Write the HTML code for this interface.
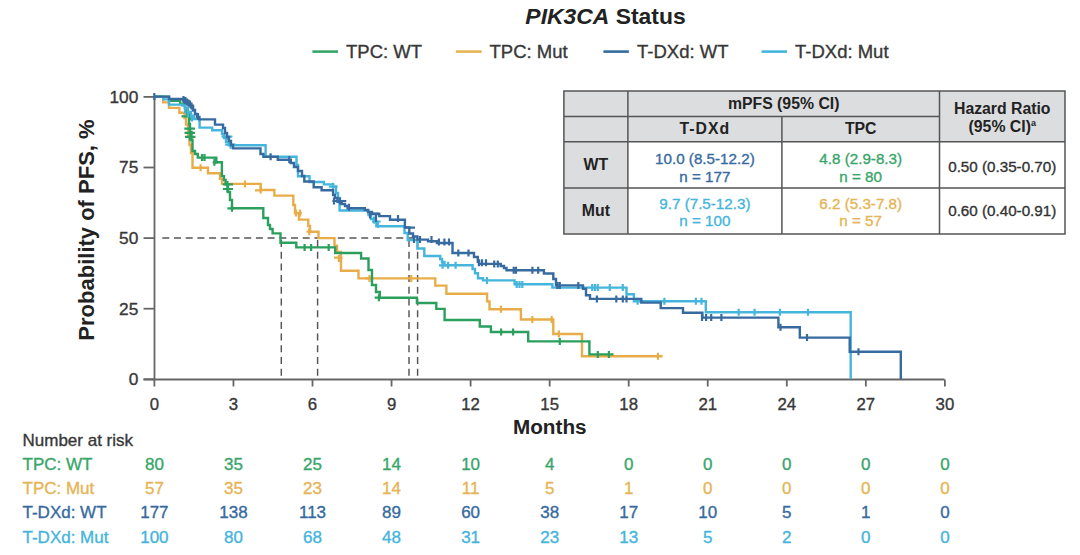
<!DOCTYPE html>
<html><head><meta charset="utf-8"><style>
html,body{margin:0;padding:0;background:#fff;}
svg{display:block;font-family:"Liberation Sans", sans-serif;}
</style></head><body>
<svg width="1080" height="555" viewBox="0 0 1080 555">
<text x="605.5" y="24" text-anchor="middle" font-weight="bold" font-size="22.9" fill="#222"><tspan font-style="italic">PIK3CA</tspan> Status</text>
<line x1="312.4" y1="51.6" x2="338" y2="51.6" stroke="#38a66a" stroke-width="2.6"/>
<text x="346" y="58" font-size="18.5" fill="#383838" stroke="#383838" stroke-width="0.35">TPC: WT</text>
<line x1="455.9" y1="51.6" x2="481.7" y2="51.6" stroke="#e6b455" stroke-width="2.6"/>
<text x="489.5" y="58" font-size="18.5" fill="#383838" stroke="#383838" stroke-width="0.35">TPC: Mut</text>
<line x1="603.4" y1="51.6" x2="628.9" y2="51.6" stroke="#376a9f" stroke-width="2.6"/>
<text x="637" y="58" font-size="18.5" fill="#383838" stroke="#383838" stroke-width="0.35">T-DXd: WT</text>
<line x1="761.5" y1="51.6" x2="787" y2="51.6" stroke="#45b5dc" stroke-width="2.6"/>
<text x="795" y="58" font-size="18.5" fill="#383838" stroke="#383838" stroke-width="0.35">T-DXd: Mut</text>
<line x1="154.5" y1="96" x2="154.5" y2="380" stroke="#666" stroke-width="1.8"/>
<line x1="143.5" y1="379.5" x2="944.5" y2="379.5" stroke="#666" stroke-width="1.8"/>
<line x1="154.40" y1="379.5" x2="154.40" y2="386.5" stroke="#666" stroke-width="1.8"/>
<text x="154.40" y="409.5" text-anchor="middle" font-size="16.8" fill="#383838" stroke="#383838" stroke-width="0.35">0</text>
<line x1="233.45" y1="379.5" x2="233.45" y2="386.5" stroke="#666" stroke-width="1.8"/>
<text x="233.45" y="409.5" text-anchor="middle" font-size="16.8" fill="#383838" stroke="#383838" stroke-width="0.35">3</text>
<line x1="312.50" y1="379.5" x2="312.50" y2="386.5" stroke="#666" stroke-width="1.8"/>
<text x="312.50" y="409.5" text-anchor="middle" font-size="16.8" fill="#383838" stroke="#383838" stroke-width="0.35">6</text>
<line x1="391.55" y1="379.5" x2="391.55" y2="386.5" stroke="#666" stroke-width="1.8"/>
<text x="391.55" y="409.5" text-anchor="middle" font-size="16.8" fill="#383838" stroke="#383838" stroke-width="0.35">9</text>
<line x1="470.60" y1="379.5" x2="470.60" y2="386.5" stroke="#666" stroke-width="1.8"/>
<text x="470.60" y="409.5" text-anchor="middle" font-size="16.8" fill="#383838" stroke="#383838" stroke-width="0.35">12</text>
<line x1="549.65" y1="379.5" x2="549.65" y2="386.5" stroke="#666" stroke-width="1.8"/>
<text x="549.65" y="409.5" text-anchor="middle" font-size="16.8" fill="#383838" stroke="#383838" stroke-width="0.35">15</text>
<line x1="628.70" y1="379.5" x2="628.70" y2="386.5" stroke="#666" stroke-width="1.8"/>
<text x="628.70" y="409.5" text-anchor="middle" font-size="16.8" fill="#383838" stroke="#383838" stroke-width="0.35">18</text>
<line x1="707.75" y1="379.5" x2="707.75" y2="386.5" stroke="#666" stroke-width="1.8"/>
<text x="707.75" y="409.5" text-anchor="middle" font-size="16.8" fill="#383838" stroke="#383838" stroke-width="0.35">21</text>
<line x1="786.80" y1="379.5" x2="786.80" y2="386.5" stroke="#666" stroke-width="1.8"/>
<text x="786.80" y="409.5" text-anchor="middle" font-size="16.8" fill="#383838" stroke="#383838" stroke-width="0.35">24</text>
<line x1="865.85" y1="379.5" x2="865.85" y2="386.5" stroke="#666" stroke-width="1.8"/>
<text x="865.85" y="409.5" text-anchor="middle" font-size="16.8" fill="#383838" stroke="#383838" stroke-width="0.35">27</text>
<line x1="944.90" y1="379.5" x2="944.90" y2="386.5" stroke="#666" stroke-width="1.8"/>
<text x="944.90" y="409.5" text-anchor="middle" font-size="16.8" fill="#383838" stroke="#383838" stroke-width="0.35">30</text>
<line x1="143.5" y1="379.30" x2="154.5" y2="379.30" stroke="#666" stroke-width="1.8"/>
<text x="138.3" y="385.10" text-anchor="end" font-size="17.3" fill="#383838" stroke="#383838" stroke-width="0.35">0</text>
<line x1="143.5" y1="308.70" x2="154.5" y2="308.70" stroke="#666" stroke-width="1.8"/>
<text x="138.3" y="314.50" text-anchor="end" font-size="17.3" fill="#383838" stroke="#383838" stroke-width="0.35">25</text>
<line x1="143.5" y1="238.10" x2="154.5" y2="238.10" stroke="#666" stroke-width="1.8"/>
<text x="138.3" y="243.90" text-anchor="end" font-size="17.3" fill="#383838" stroke="#383838" stroke-width="0.35">50</text>
<line x1="143.5" y1="167.50" x2="154.5" y2="167.50" stroke="#666" stroke-width="1.8"/>
<text x="138.3" y="173.30" text-anchor="end" font-size="17.3" fill="#383838" stroke="#383838" stroke-width="0.35">75</text>
<line x1="143.5" y1="96.90" x2="154.5" y2="96.90" stroke="#666" stroke-width="1.8"/>
<text x="138.3" y="102.70" text-anchor="end" font-size="17.3" fill="#383838" stroke="#383838" stroke-width="0.35">100</text>
<text x="513" y="434.3" font-weight="bold" font-size="20.7" fill="#222">Months</text>
<text transform="translate(93.5,230) rotate(-90)" text-anchor="middle" font-weight="bold" font-size="22" fill="#222">Probability of PFS, %</text>
<g stroke="#555" stroke-width="1.45" stroke-dasharray="7,4.7" fill="none">
<line x1="162.3" y1="237.9" x2="417.6" y2="237.9"/>
<line x1="281.3" y1="240" x2="281.3" y2="379"/>
<line x1="317.6" y1="240" x2="317.6" y2="379"/>
<line x1="409.0" y1="240" x2="409.0" y2="379"/>
<line x1="417.6" y1="240" x2="417.6" y2="379"/>
</g>
<text x="22.5" y="445.5" font-size="17" fill="#383838" stroke="#383838" stroke-width="0.35">Number at risk</text>
<text x="22.5" y="470.00" font-size="17" fill="#38a66a" stroke="#38a66a" stroke-width="0.35">TPC: WT</text>
<text x="154.40" y="470.00" text-anchor="middle" font-size="17" fill="#38a66a" stroke="#38a66a" stroke-width="0.35">80</text>
<text x="233.45" y="470.00" text-anchor="middle" font-size="17" fill="#38a66a" stroke="#38a66a" stroke-width="0.35">35</text>
<text x="312.50" y="470.00" text-anchor="middle" font-size="17" fill="#38a66a" stroke="#38a66a" stroke-width="0.35">25</text>
<text x="391.55" y="470.00" text-anchor="middle" font-size="17" fill="#38a66a" stroke="#38a66a" stroke-width="0.35">14</text>
<text x="470.60" y="470.00" text-anchor="middle" font-size="17" fill="#38a66a" stroke="#38a66a" stroke-width="0.35">10</text>
<text x="549.65" y="470.00" text-anchor="middle" font-size="17" fill="#38a66a" stroke="#38a66a" stroke-width="0.35">4</text>
<text x="628.70" y="470.00" text-anchor="middle" font-size="17" fill="#38a66a" stroke="#38a66a" stroke-width="0.35">0</text>
<text x="707.75" y="470.00" text-anchor="middle" font-size="17" fill="#38a66a" stroke="#38a66a" stroke-width="0.35">0</text>
<text x="786.80" y="470.00" text-anchor="middle" font-size="17" fill="#38a66a" stroke="#38a66a" stroke-width="0.35">0</text>
<text x="865.85" y="470.00" text-anchor="middle" font-size="17" fill="#38a66a" stroke="#38a66a" stroke-width="0.35">0</text>
<text x="944.90" y="470.00" text-anchor="middle" font-size="17" fill="#38a66a" stroke="#38a66a" stroke-width="0.35">0</text>
<text x="22.5" y="494.20" font-size="17" fill="#e6b455" stroke="#e6b455" stroke-width="0.35">TPC: Mut</text>
<text x="154.40" y="494.20" text-anchor="middle" font-size="17" fill="#e6b455" stroke="#e6b455" stroke-width="0.35">57</text>
<text x="233.45" y="494.20" text-anchor="middle" font-size="17" fill="#e6b455" stroke="#e6b455" stroke-width="0.35">35</text>
<text x="312.50" y="494.20" text-anchor="middle" font-size="17" fill="#e6b455" stroke="#e6b455" stroke-width="0.35">23</text>
<text x="391.55" y="494.20" text-anchor="middle" font-size="17" fill="#e6b455" stroke="#e6b455" stroke-width="0.35">14</text>
<text x="470.60" y="494.20" text-anchor="middle" font-size="17" fill="#e6b455" stroke="#e6b455" stroke-width="0.35">11</text>
<text x="549.65" y="494.20" text-anchor="middle" font-size="17" fill="#e6b455" stroke="#e6b455" stroke-width="0.35">5</text>
<text x="628.70" y="494.20" text-anchor="middle" font-size="17" fill="#e6b455" stroke="#e6b455" stroke-width="0.35">1</text>
<text x="707.75" y="494.20" text-anchor="middle" font-size="17" fill="#e6b455" stroke="#e6b455" stroke-width="0.35">0</text>
<text x="786.80" y="494.20" text-anchor="middle" font-size="17" fill="#e6b455" stroke="#e6b455" stroke-width="0.35">0</text>
<text x="865.85" y="494.20" text-anchor="middle" font-size="17" fill="#e6b455" stroke="#e6b455" stroke-width="0.35">0</text>
<text x="944.90" y="494.20" text-anchor="middle" font-size="17" fill="#e6b455" stroke="#e6b455" stroke-width="0.35">0</text>
<text x="22.5" y="518.40" font-size="17" fill="#376a9f" stroke="#376a9f" stroke-width="0.35">T-DXd: WT</text>
<text x="154.40" y="518.40" text-anchor="middle" font-size="17" fill="#376a9f" stroke="#376a9f" stroke-width="0.35">177</text>
<text x="233.45" y="518.40" text-anchor="middle" font-size="17" fill="#376a9f" stroke="#376a9f" stroke-width="0.35">138</text>
<text x="312.50" y="518.40" text-anchor="middle" font-size="17" fill="#376a9f" stroke="#376a9f" stroke-width="0.35">113</text>
<text x="391.55" y="518.40" text-anchor="middle" font-size="17" fill="#376a9f" stroke="#376a9f" stroke-width="0.35">89</text>
<text x="470.60" y="518.40" text-anchor="middle" font-size="17" fill="#376a9f" stroke="#376a9f" stroke-width="0.35">60</text>
<text x="549.65" y="518.40" text-anchor="middle" font-size="17" fill="#376a9f" stroke="#376a9f" stroke-width="0.35">38</text>
<text x="628.70" y="518.40" text-anchor="middle" font-size="17" fill="#376a9f" stroke="#376a9f" stroke-width="0.35">17</text>
<text x="707.75" y="518.40" text-anchor="middle" font-size="17" fill="#376a9f" stroke="#376a9f" stroke-width="0.35">10</text>
<text x="786.80" y="518.40" text-anchor="middle" font-size="17" fill="#376a9f" stroke="#376a9f" stroke-width="0.35">5</text>
<text x="865.85" y="518.40" text-anchor="middle" font-size="17" fill="#376a9f" stroke="#376a9f" stroke-width="0.35">1</text>
<text x="944.90" y="518.40" text-anchor="middle" font-size="17" fill="#376a9f" stroke="#376a9f" stroke-width="0.35">0</text>
<text x="22.5" y="542.60" font-size="17" fill="#45b5dc" stroke="#45b5dc" stroke-width="0.35">T-DXd: Mut</text>
<text x="154.40" y="542.60" text-anchor="middle" font-size="17" fill="#45b5dc" stroke="#45b5dc" stroke-width="0.35">100</text>
<text x="233.45" y="542.60" text-anchor="middle" font-size="17" fill="#45b5dc" stroke="#45b5dc" stroke-width="0.35">80</text>
<text x="312.50" y="542.60" text-anchor="middle" font-size="17" fill="#45b5dc" stroke="#45b5dc" stroke-width="0.35">68</text>
<text x="391.55" y="542.60" text-anchor="middle" font-size="17" fill="#45b5dc" stroke="#45b5dc" stroke-width="0.35">48</text>
<text x="470.60" y="542.60" text-anchor="middle" font-size="17" fill="#45b5dc" stroke="#45b5dc" stroke-width="0.35">31</text>
<text x="549.65" y="542.60" text-anchor="middle" font-size="17" fill="#45b5dc" stroke="#45b5dc" stroke-width="0.35">23</text>
<text x="628.70" y="542.60" text-anchor="middle" font-size="17" fill="#45b5dc" stroke="#45b5dc" stroke-width="0.35">13</text>
<text x="707.75" y="542.60" text-anchor="middle" font-size="17" fill="#45b5dc" stroke="#45b5dc" stroke-width="0.35">5</text>
<text x="786.80" y="542.60" text-anchor="middle" font-size="17" fill="#45b5dc" stroke="#45b5dc" stroke-width="0.35">2</text>
<text x="865.85" y="542.60" text-anchor="middle" font-size="17" fill="#45b5dc" stroke="#45b5dc" stroke-width="0.35">0</text>
<text x="944.90" y="542.60" text-anchor="middle" font-size="17" fill="#45b5dc" stroke="#45b5dc" stroke-width="0.35">0</text>
<path d="M154.5,96.6H163.1V102.4H169V107.9H179.4V112.7H184.6V118H186V124.6H188V135H189.5V145H191V153H192.5V167.8H208V173.3H220V178.9H222V183.9H260.7V190H274.4V195.6H293.3V205H295V213.1H299V219.6H308.3V226H310V231.7H318.5V238.1H334.5V245.6H337V252H340.7V258.5H341V270.8H358.5V278.4H435.3V285.6H446.4V293.7H487.1V301.4H489.5V309.3H520.9V319.5H553.3V334H582V356.3H662.6V356.3" fill="none" stroke="#e8ad48" stroke-width="2.4"/>
<path d="M200.6,164.3V171.3M245,180.4V187.4M260.7,186.5V193.5M296,209.6V216.6M300,209.6V216.6M309.3,228.2V235.2M338.9,255.0V262.0M369.5,274.9V281.9M411.2,274.9V281.9M501,305.8V312.8M532.3,316.0V323.0M551.7,316.0V323.0M558.9,330.5V337.5M658,352.8V359.8M365,278.3H372M255,190.3H262M294.4,213.1H301.9M306.5,231.7H312M334,257.6H342.6" fill="none" stroke="#e8ad48" stroke-width="2.2"/>
<path d="M154.5,96.6H169.1V100.9H180.2V104H185V108H187V114H189V124H190V132H191.5V140H192.5V151H195V154H197.8V157.6H216.3V162.2H221.9V176.1H224V180H225.6V184.4H228V192H230V200H232V208.3H263.3V218H268V225H270V229H272.6V233.4H280.5V242.8H296.3V247.4H335.2V253H361.1V258.5H368.5V270H372V285H376V292H379.8V297.8H416.9V303H436.3V308.9H444.6V320H479.8V326.5H490.9V332H528.2V341.4H589.4V354.4H613.5V354.4" fill="none" stroke="#2a9f5e" stroke-width="2.4"/>
<path d="M189.8,113.4V120.4M189.8,124.9V131.9M189.8,129.5V136.5M189.8,133.7V140.7M202,154.1V161.1M204.5,154.1V161.1M214.4,158.7V165.7M227.4,180.9V187.9M227.4,185.5V192.5M232,204.8V211.8M304.6,243.9V250.9M311.1,243.9V250.9M328.7,243.9V250.9M378.9,294.3V301.3M501.1,328.5V335.5M513.1,328.5V335.5M559.8,337.9V344.9M597.8,350.9V357.9M608.9,350.9V357.9M374.7,297.7H380.5M181.5,116.4H189.8M184.3,128.6H195M184.5,132.8H195M185,136.8H195.4M212.6,162.5H218M222.8,184.4H233M222.8,189H233M227.4,208.3H234" fill="none" stroke="#2a9f5e" stroke-width="2.2"/>
<path d="M154.5,96.6H163.5V99.4H169V104.6H182.4V105.5H185V108H188V112H191V116H194V119H199.4V121H199.6V127.6H212.2V130.2H222V134H224V138H226V142H228.8V145.3H265.6V156.8H296.5V165H298V176.3H309.5V182H323.9V184.4H333.1V186.6H336V193H338V198H339.6V210.5H368.5V215H371V219H374V222H376.4V226.2H404.5V233H407.7V240H417.4V248.5H424.3V256H440.2V259H442V262H444.5V265.3H472.6V269H475V273.2H478V278.3H483V280.4H514.6V284.2H552.4V287.6H626.5V294.3H633.9V301.2H705.8V312.3H850.7V379" fill="none" stroke="#45b5dc" stroke-width="2.4"/>
<path d="M185,106.5V113.5M188,110.5V117.5M192,114.5V121.5M227,133.2V140.2M230.6,141.8V148.8M333,182.8V189.8M374,216.5V223.5M378,220.8V227.8M442.6,261.8V268.8M448.1,261.8V268.8M455.6,261.8V268.8M487,276.9V283.9M516.7,280.9V287.9M519.5,280.9V287.9M522.3,280.9V287.9M592.2,284.1V291.1M595,284.1V291.1M597.8,284.1V291.1M609.8,284.1V291.1M622.8,284.1V291.1M637.6,297.7V304.7M664.4,297.7V304.7M695.9,297.7V304.7M701.5,297.7V304.7M738.7,308.8V315.8M754.6,308.8V315.8M779.9,308.8V315.8M808,308.8V315.8M439,265.3H449.7M372,221.5H380.7M221.6,136.7H232.4M225.2,144.6H236M328.8,186.6H337.5" fill="none" stroke="#45b5dc" stroke-width="2.2"/>
<path d="M154.5,96.6H169V99H183V100H185V101.5H187V103H189V105H191V107H193V110H195V114H197V117H199.4V119.4H215V124.6H223V128H225V133H227V137H229V141H231V145H233V148.4H260.5V154H263.4V156.8H277.8V159.7H290.8V163H294V167H298V171H302V176H304.3V181.5H313.7V187.3H321.6V190.2H333.1V195H335V198H337.5V201.7H341.8V204H345V206H347.6V208.2H364.8V210H368V212H372V214H379.3V216.1H390V219.8H404.9V227.4H409.3V233.5H413V236.5H417.4V239.6H428V241.2H437V243H452.5V253H474V257H477.8V261.7H479V263.9H500.7V266H504V268H506.5V270.3H543.9V273.5H553.3V279H556V285.4H583V288.7H586V295.2H590V298.9H641.3V302.6H660.7V308.1H683V312.8H702.4V317.6H778.4V327.3H799.8V337.6H849.7V351.7H900.8V379" fill="none" stroke="#376a9f" stroke-width="2.4"/>
<path d="M154.3,93.1V100.1M183.5,96.0V103.0M185.5,97.0V104.0M187,98.5V105.5M188.5,99.5V106.5M190,100.5V107.5M191.5,102.5V109.5M193,104.5V111.5M198,113.0V120.0M270.6,153.3V160.3M289.3,156.2V163.2M334,197.5V204.5M340,197.5V204.5M349,203.7V210.7M370,211.5V218.5M376,215.1V222.1M398,215.1V222.1M414,236.0V243.0M420,236.0V243.0M431.5,236.0V243.0M438.9,238.5V245.5M444.4,238.5V245.5M449,238.5V245.5M458.3,249.5V256.5M468.5,249.5V256.5M479,259.3V266.3M482,259.3V266.3M486,259.3V266.3M494.2,260.4V267.4M497.8,260.4V267.4M513.7,266.8V273.8M516,266.8V273.8M532.4,266.8V273.8M538.2,266.8V273.8M557.4,281.9V288.9M559.8,281.9V288.9M578.3,281.9V288.9M596.9,295.4V302.4M616.3,295.4V302.4M622.8,295.4V302.4M626.5,295.4V302.4M702,314.1V321.1M706.1,314.1V321.1M711.2,314.1V321.1M721.4,314.1V321.1M780.5,323.8V330.8M807,334.1V341.1M858.5,348.2V355.2M332.4,201H346.3M370.4,213.5H379.6M404.5,227.6H415" fill="none" stroke="#376a9f" stroke-width="2.2"/>
<rect x="563.9" y="91" width="501.1" height="143" fill="#fff"/>
<rect x="563.9" y="91" width="501.1" height="50.80000000000001" fill="#dcdddf"/>
<rect x="563.9" y="91" width="64.0" height="143" fill="#dcdddf"/>
<g stroke="#555" stroke-width="1.5" fill="none">
<rect x="563.9" y="91" width="501.1" height="143"/>
<line x1="563.9" y1="116.6" x2="939.5" y2="116.6"/>
<line x1="563.9" y1="141.8" x2="1065" y2="141.8"/>
<line x1="563.9" y1="188" x2="1065" y2="188"/>
<line x1="627.9" y1="91" x2="627.9" y2="234"/>
<line x1="781.9" y1="116.6" x2="781.9" y2="234"/>
<line x1="939.5" y1="91" x2="939.5" y2="234"/>
</g>
<text x="783.7" y="109" text-anchor="middle" font-weight="bold" font-size="15.8" fill="#222">mPFS (95% CI)</text>
<text x="704.9" y="134" text-anchor="middle" font-weight="bold" font-size="15.8" letter-spacing="1" fill="#222">T-DXd</text>
<text x="860.7" y="134" text-anchor="middle" font-weight="bold" font-size="15.8" fill="#222">TPC</text>
<text x="1002.25" y="114" text-anchor="middle" font-weight="bold" font-size="15.8" fill="#222">Hazard Ratio</text>
<text x="1002.25" y="132" text-anchor="middle" font-weight="bold" font-size="15.8" fill="#222">(95% CI)<tspan font-size="9" dy="-6">a</tspan></text>
<text x="595.9" y="170" text-anchor="middle" font-weight="bold" font-size="15.8" fill="#222">WT</text>
<text x="595.9" y="216" text-anchor="middle" font-weight="bold" font-size="15.8" fill="#222">Mut</text>
<text x="704.9" y="164" text-anchor="middle" font-size="15.2" fill="#376a9f" stroke="#376a9f" stroke-width="0.35">10.0 (8.5-12.2)</text>
<text x="704.9" y="181.5" text-anchor="middle" font-size="15.2" fill="#376a9f" stroke="#376a9f" stroke-width="0.35">n = 177</text>
<text x="860.7" y="164" text-anchor="middle" font-size="15.2" fill="#38a66a" stroke="#38a66a" stroke-width="0.35">4.8 (2.9-8.3)</text>
<text x="860.7" y="181.5" text-anchor="middle" font-size="15.2" fill="#38a66a" stroke="#38a66a" stroke-width="0.35">n = 80</text>
<text x="704.9" y="208.5" text-anchor="middle" font-size="15.2" fill="#45b5dc" stroke="#45b5dc" stroke-width="0.35">9.7 (7.5-12.3)</text>
<text x="704.9" y="225.8" text-anchor="middle" font-size="15.2" fill="#45b5dc" stroke="#45b5dc" stroke-width="0.35">n = 100</text>
<text x="860.7" y="208.5" text-anchor="middle" font-size="15.2" fill="#e6b455" stroke="#e6b455" stroke-width="0.35">6.2 (5.3-7.8)</text>
<text x="860.7" y="225.8" text-anchor="middle" font-size="15.2" fill="#e6b455" stroke="#e6b455" stroke-width="0.35">n = 57</text>
<text x="1002.25" y="171.5" text-anchor="middle" font-size="15.2" fill="#333" stroke="#333" stroke-width="0.35">0.50 (0.35-0.70)</text>
<text x="1002.25" y="215.5" text-anchor="middle" font-size="15.2" fill="#333" stroke="#333" stroke-width="0.35">0.60 (0.40-0.91)</text>
</svg></body></html>
